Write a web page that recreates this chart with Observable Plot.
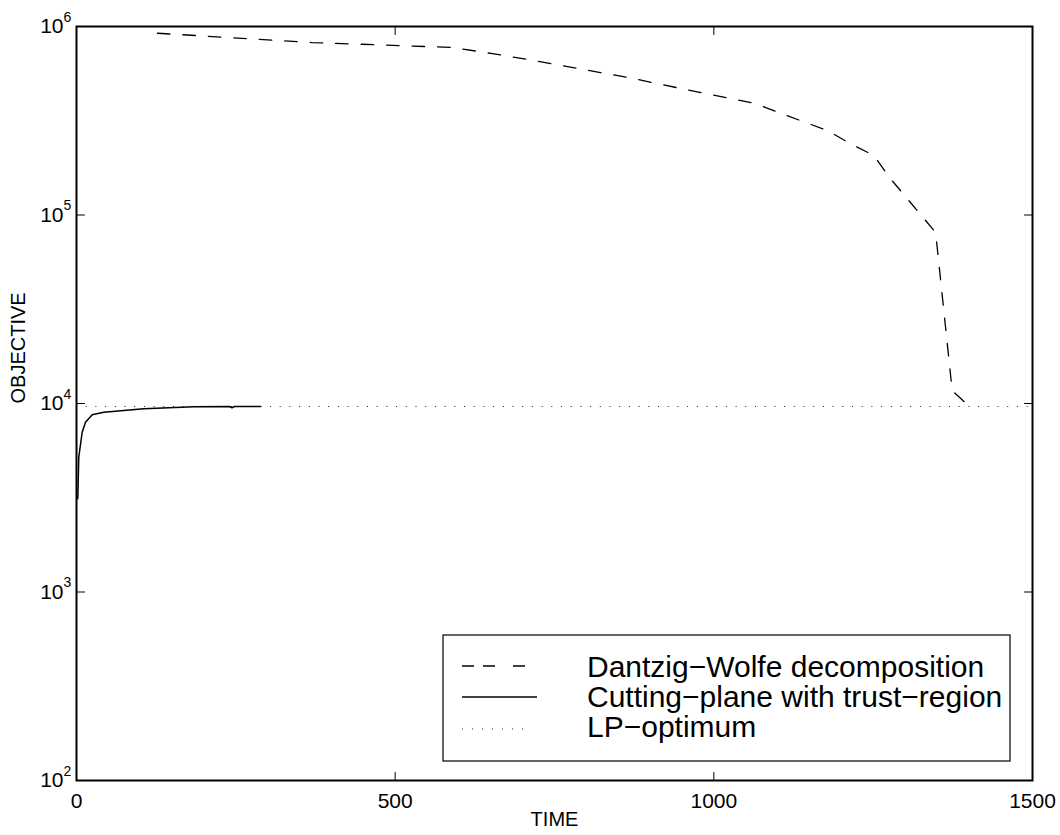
<!DOCTYPE html>
<html><head><meta charset="utf-8">
<script src="https://cdn.jsdelivr.net/npm/d3@7"></script>
<script src="https://cdn.jsdelivr.net/npm/@observablehq/plot@0.6"></script>
<style>
html,body{margin:0;padding:0;background:#fff;}
#chart{position:relative;width:1060px;height:835px;}
</style></head><body><div id="chart"></div>
<script>
// Dantzig-Wolfe decomposition (dashed)
const dwTime      = [127, 370, 590, 650, 709, 822, 866, 948, 1065, 1101, 1178, 1214, 1251, 1277, 1348, 1374, 1384, 1396];
const dwObjective = [921000, 822000, 774000, 720000, 668000, 570000, 536000, 469000, 390000, 350000, 281000, 239000, 207000, 156000, 80800, 11700, 10900, 10000];
// Cutting-plane with trust-region (solid)
const ctTime      = [2, 3.6, 8.9, 14.1, 24.6, 42.8, 105.6, 184, 240, 244, 248, 289];
const ctObjective = [3120, 5190, 7040, 7960, 8710, 8990, 9370, 9610, 9640, 9490, 9640, 9640];
// LP-optimum (dotted)
const lpOptimum = [9640];

const xTicks = [0, 500, 1000, 1500];
const xTickLabels = ["0", "500", "1000", "1500"];
const yTicks = [1e2, 1e3, 1e4, 1e5, 1e6];
const yTickBase = "10";
const yTickExponents = ["2", "3", "4", "5", "6"];
const seriesNames = ["Dantzig\u2212Wolfe decomposition", "Cutting\u2212plane with trust\u2212region", "LP\u2212optimum"];
const xLabel = "TIME";
const yLabel = "OBJECTIVE";

const dw = dwTime.map((t, i) => ({t, v: dwObjective[i]}));
const ct = ctTime.map((t, i) => ({t, v: ctObjective[i]}));

const tickLine = {draw(context, l) { context.moveTo(0, 0); context.lineTo(0, -l); }};
const innerX = xTicks.slice(1, -1);
const innerY = yTicks.slice(1, -1);
const tickOpts = {length: 8, anchor: "start", shape: tickLine, stroke: "black", strokeWidth: 1};

const plot = Plot.plot({
  width: 1060, height: 835,
  marginLeft: 76, marginRight: 28, marginTop: 26, marginBottom: 55,
  x: {domain: [0, 1500], axis: null},
  y: {type: "log", domain: [100, 1e6], axis: null},
  style: {fontFamily: '"Liberation Sans", Arial, Helvetica, sans-serif', fontSize: "20px", color: "black", background: "white"},
  marks: [
    Plot.ruleY(lpOptimum, {stroke: "#222", strokeWidth: 1, strokeDasharray: "1,8.7"}),
    Plot.line(dw, {x: "t", y: "v", stroke: "black", strokeWidth: 1.3, strokeDasharray: "12.5,13"}),
    Plot.line(ct, {x: "t", y: "v", stroke: "black", strokeWidth: 1.5}),
    Plot.vector(innerX, {x: d => d, frameAnchor: "bottom", rotate: 0, ...tickOpts}),
    Plot.vector(innerX, {x: d => d, frameAnchor: "top", rotate: 180, ...tickOpts}),
    Plot.vector(innerY, {y: d => d, frameAnchor: "left", rotate: 90, ...tickOpts}),
    Plot.vector(innerY, {y: d => d, frameAnchor: "right", rotate: -90, ...tickOpts}),
    Plot.frame({stroke: "black", strokeWidth: 2}),
    Plot.text(xTicks, {x: d => d, frameAnchor: "bottom", text: (d, i) => xTickLabels[i], lineAnchor: "top", dy: 13, fontSize: 21}),
    Plot.text(yTicks, {y: d => d, frameAnchor: "left", text: () => yTickBase, textAnchor: "end", dx: -13, fontSize: 21}),
    Plot.text(yTicks, {y: d => d, frameAnchor: "left", text: (d, i) => yTickExponents[i], textAnchor: "start", dx: -13, dy: -9, fontSize: 14}),
    Plot.text([xLabel], {frameAnchor: "bottom", dy: 45, text: d => d, fontSize: 20}),
    Plot.text([yLabel], {frameAnchor: "left", dx: -58, rotate: -90, text: d => d, fontSize: 20})
  ]
});
document.getElementById("chart").appendChild(plot);

// Legend (inside the axes, lower right)
const svg = d3.select(plot);
const lg = svg.append("g").attr("class", "legend").attr("text-anchor", "start");
lg.append("rect").attr("x", 443).attr("y", 635).attr("width", 567).attr("height", 126)
  .attr("fill", "white").attr("stroke", "black").attr("stroke-width", 1.2);
const legendRows = [
  {name: seriesNames[0], ly: 666, ty: 677, x2: 525, dash: "12,9,12,18", w: 1.3, stroke: "black"},
  {name: seriesNames[1], ly: 697, ty: 707, x2: 537, dash: null, w: 1.5, stroke: "black"},
  {name: seriesNames[2], ly: 729, ty: 737, x2: 530, dash: "1,9", w: 1, stroke: "#222"}
];
legendRows.forEach(r => {
  const ln = lg.append("line").attr("x1", 462).attr("x2", r.x2).attr("y1", r.ly).attr("y2", r.ly)
    .attr("stroke", r.stroke).attr("stroke-width", r.w);
  if (r.dash) ln.attr("stroke-dasharray", r.dash);
  lg.append("text").attr("x", 587).attr("y", r.ty).attr("font-size", 30)
    .attr("text-anchor", "start").attr("fill", "black").text(r.name);
});
</script></body></html>
